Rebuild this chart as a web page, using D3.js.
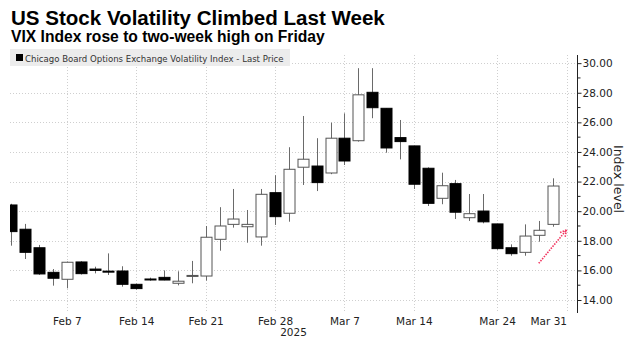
<!DOCTYPE html>
<html>
<head>
<meta charset="utf-8">
<script src="https://cdn.jsdelivr.net/npm/d3@7"></script>
<style>
  body { margin: 0; background: #fff; }
  svg { display: block; }
</style>
</head>
<body>
<svg id="chart" width="626" height="339"></svg>
<script>
// daily VIX candles
const dates = [
  "2025-02-03", "2025-02-04", "2025-02-05", "2025-02-06", "2025-02-07",
  "2025-02-10", "2025-02-11", "2025-02-12", "2025-02-13", "2025-02-14",
  "2025-02-17", "2025-02-18", "2025-02-19", "2025-02-20", "2025-02-21",
  "2025-02-24", "2025-02-25", "2025-02-26", "2025-02-27", "2025-02-28",
  "2025-03-03", "2025-03-04", "2025-03-05", "2025-03-06", "2025-03-07",
  "2025-03-10", "2025-03-11", "2025-03-12", "2025-03-13", "2025-03-14",
  "2025-03-17", "2025-03-18", "2025-03-19", "2025-03-20", "2025-03-21",
  "2025-03-24", "2025-03-25", "2025-03-26", "2025-03-27", "2025-03-28"
];
const open = [
  20.42, 18.78, 17.53, 15.87, 15.40, 16.57, 16.09, 15.95, 15.96, 15.06,
  15.42, 15.53, 15.13, 15.60, 15.62, 18.10, 19.11, 18.95, 18.26, 21.25,
  19.86, 22.97, 23.05, 22.58, 24.93, 24.76, 28.03, 26.95, 24.97, 24.41,
  22.90, 20.87, 21.86, 19.56, 20.01, 19.14, 17.53, 17.22, 18.37, 19.11
];
const high = [
  20.50, 19.14, 17.72, 16.09, 16.60, 16.62, 16.25, 17.15, 16.28, 15.10,
  15.51, 16.00, 15.94, 16.64, 19.00, 20.27, 21.50, 20.08, 21.50, 22.43,
  24.32, 26.43, 24.93, 25.98, 26.61, 29.66, 29.66, 26.95, 26.16, 24.41,
  22.96, 22.60, 22.11, 21.16, 21.16, 19.14, 17.76, 19.11, 19.34, 22.22
];
const low = [
  17.67, 16.77, 15.70, 14.97, 14.79, 15.72, 15.80, 15.69, 14.90, 14.70,
  15.30, 15.33, 14.99, 15.13, 15.31, 17.33, 18.89, 17.87, 17.67, 19.07,
  19.29, 21.77, 21.36, 22.50, 23.12, 24.70, 26.28, 23.95, 23.50, 21.50,
  20.35, 20.47, 19.47, 19.34, 19.18, 17.40, 16.99, 16.99, 17.94, 18.95
];
const close = [
  18.62, 17.22, 15.76, 15.47, 16.55, 15.78, 16.00, 15.89, 15.06, 14.77,
  15.37, 15.35, 15.27, 15.66, 18.24, 19.00, 19.47, 19.11, 21.14, 19.63,
  22.83, 23.51, 21.93, 24.93, 23.39, 27.86, 26.99, 24.27, 24.70, 21.82,
  20.53, 21.72, 19.93, 19.83, 19.28, 17.47, 17.13, 18.32, 18.71, 21.70
];

const xTickDates = ["2025-02-07", "2025-02-14", "2025-02-21", "2025-02-28", "2025-03-07", "2025-03-14", "2025-03-24", "2025-03-31"];
const xTickLabels = ["Feb 7", "Feb 14", "Feb 21", "Feb 28", "Mar 7", "Mar 14", "Mar 24", "Mar 31"];
const yMajorTicks = [14, 16, 18, 20, 22, 24, 26, 28, 30];
const yMinorTicks = [15, 17, 19, 21, 23, 25, 27, 29];

// red dotted arrow annotation: [date, value]
const arrowFrom = ["2025-03-27", 16.48];
const arrowTo = ["2025-03-31", 18.73];

const titleText = "US Stock Volatility Climbed Last Week";
const subtitleText = "VIX Index rose to two-week high on Friday";
const legendText = "Chicago Board Options Exchange Volatility Index - Last Price";
const yearText = "2025";
const yTitle = "Index level";

const parseDate = d3.timeParse("%Y-%m-%d");
const data = dates.map((d, i) => ({
  date: parseDate(d), open: open[i], high: high[i], low: low[i], close: close[i]
}));

// weekday slots (weekends removed, holidays kept)
const slots = d3.timeDay
  .range(parseDate("2025-02-03"), parseDate("2025-04-01"))
  .filter(d => d.getDay() !== 0 && d.getDay() !== 6);
const key = d3.timeFormat("%Y-%m-%d");

const plot = { left: 10, right: 577, top: 55, bottom: 312 };

const xScale = d3.scalePoint()
  .domain(slots.map(key))
  .range([11.3, 566.5]);

const yScale = d3.scaleLinear()
  .domain([13.19, 30.55])
  .range([plot.bottom, plot.top]);

const svg = d3.select("#chart");
const font = "DejaVu Sans";

function fit(sel, width) {
  const w = sel.node().getComputedTextLength();
  sel.attr("font-size", parseFloat(sel.attr("font-size")) * width / w);
}

// titles
svg.append("text")
  .attr("x", 11).attr("y", 25)
  .attr("font-family", "Liberation Sans").attr("font-weight", "bold")
  .attr("font-size", 20).attr("fill", "#000")
  .text(titleText)
  .call(fit, 374);

svg.append("text")
  .attr("x", 11).attr("y", 41.5)
  .attr("font-family", "Liberation Sans").attr("font-weight", "bold")
  .attr("font-size", 14).attr("fill", "#000")
  .text(subtitleText)
  .call(fit, 314);

svg.append("defs").append("clipPath").attr("id", "clip")
  .append("rect")
  .attr("x", plot.left).attr("y", plot.top)
  .attr("width", plot.right - plot.left).attr("height", plot.bottom - plot.top);

// grid
const grid = svg.append("g")
  .attr("stroke", "#cfcfcf").attr("stroke-dasharray", "1,2").attr("stroke-width", 1);

grid.selectAll("line.h").data(yMajorTicks).enter().append("line")
  .attr("x1", plot.left).attr("x2", plot.right)
  .attr("y1", d => Math.round(yScale(d)) + 0.5).attr("y2", d => Math.round(yScale(d)) + 0.5);

grid.selectAll("line.v").data(xTickDates).enter().append("line")
  .attr("x1", d => Math.round(xScale(d)) + 0.5).attr("x2", d => Math.round(xScale(d)) + 0.5)
  .attr("y1", plot.top).attr("y2", plot.bottom);

// legend
svg.append("rect")
  .attr("x", 10).attr("y", 49).attr("width", 280).attr("height", 17)
  .attr("fill", "#ececec");
svg.append("rect")
  .attr("x", 16).attr("y", 54).attr("width", 7).attr("height", 7)
  .attr("fill", "#000");
svg.append("text")
  .attr("x", 25).attr("y", 61.5)
  .attr("font-family", font).attr("font-size", 10).attr("fill", "#333")
  .text(legendText)
  .call(fit, 259);

// candles
const candles = svg.append("g").attr("clip-path", "url(#clip)")
  .selectAll("g").data(data).enter().append("g")
  .attr("transform", d => `translate(${Math.round(xScale(key(d.date))) + 0.5},0)`);

candles.append("line")
  .attr("y1", d => yScale(d.high)).attr("y2", d => yScale(d.low))
  .attr("stroke", "#6a6a6a").attr("stroke-width", 1);

const bodyW = 11;
candles.append("rect")
  .attr("x", -bodyW / 2)
  .attr("y", d => yScale(Math.max(d.open, d.close)))
  .attr("width", bodyW)
  .attr("height", d => Math.max(1, Math.abs(yScale(d.open) - yScale(d.close))))
  .attr("fill", d => d.close >= d.open ? "#fff" : "#000")
  .attr("stroke", d => d.close >= d.open ? "#555" : "#000")
  .attr("stroke-width", 1);

// arrow
const ax1 = xScale(arrowFrom[0]), ay1 = yScale(arrowFrom[1]);
const ax2 = xScale(arrowTo[0]), ay2 = yScale(arrowTo[1]);
const ang = Math.atan2(ay2 - ay1, ax2 - ax1);
const head = 7;
const arrow = svg.append("g")
  .attr("stroke", "#f2345f").attr("stroke-width", 1.6)
  .attr("stroke-dasharray", "1.5,1.2").attr("fill", "none");
arrow.append("line").attr("x1", ax1).attr("y1", ay1).attr("x2", ax2).attr("y2", ay2);
[-0.5, 0.5].forEach(a => {
  arrow.append("line")
    .attr("x1", ax2).attr("y1", ay2)
    .attr("x2", ax2 - head * Math.cos(ang + a))
    .attr("y2", ay2 - head * Math.sin(ang + a));
});

// y axis on the right
const yAxis = d3.axisRight(yScale)
  .tickValues(yMajorTicks)
  .tickFormat(d3.format(".2f"))
  .tickSize(4)
  .tickSizeOuter(0);

const yAxisG = svg.append("g")
  .attr("transform", `translate(${plot.right + 0.5},0)`)
  .call(yAxis);
yAxisG.select(".domain").attr("stroke", "#222").attr("d", `M0,${plot.top}V${plot.bottom + 1}`);
yAxisG.selectAll(".tick line").attr("stroke", "#222");
yAxisG.selectAll(".tick text")
  .attr("x", 5)
  .attr("font-family", font).attr("font-size", 10.5).attr("fill", "#222");

yAxisG.selectAll("line.minor").data(yMinorTicks).enter().append("line")
  .attr("class", "minor")
  .attr("x1", 0).attr("x2", 3)
  .attr("y1", d => yScale(d)).attr("y2", d => yScale(d))
  .attr("stroke", "#222");

svg.append("text")
  .attr("transform", `translate(614,179) rotate(90)`)
  .attr("text-anchor", "middle")
  .attr("font-family", font).attr("font-size", 12.5).attr("fill", "#222")
  .text(yTitle);

// x axis labels
const xAxis = d3.axisBottom(xScale)
  .tickValues(xTickDates)
  .tickFormat((d, i) => xTickLabels[i])
  .tickSize(0)
  .tickPadding(0);

const xAxisG = svg.append("g")
  .attr("transform", `translate(0,${plot.bottom})`)
  .call(xAxis);
xAxisG.select(".domain").remove();
xAxisG.selectAll(".tick text")
  .attr("y", 13).attr("dy", 0)
  .attr("font-family", font).attr("font-size", 10.5).attr("fill", "#222")
  .attr("text-anchor", (d, i) => i === xTickDates.length - 1 ? "end" : "middle");

svg.append("text")
  .attr("x", (plot.left + plot.right) / 2).attr("y", 336)
  .attr("text-anchor", "middle")
  .attr("font-family", font).attr("font-size", 10.5).attr("fill", "#222")
  .text(yearText);
</script>
</body>
</html>
